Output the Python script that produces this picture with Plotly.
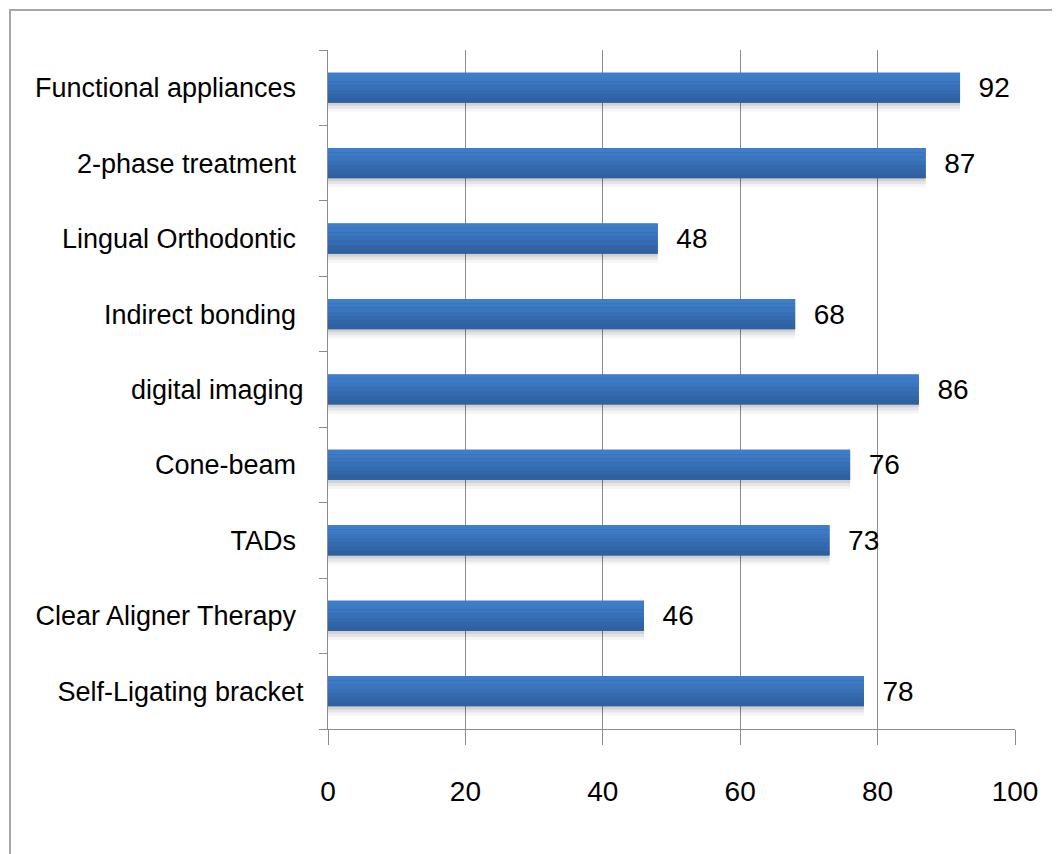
import plotly.graph_objects as go

categories = [
    "Self-Ligating bracket",
    "Clear Aligner Therapy ",
    "TADs ",
    "Cone-beam ",
    "digital imaging",
    "Indirect bonding ",
    "Lingual Orthodontic ",
    "2-phase treatment ",
    "Functional appliances ",
]
values = [78, 46, 73, 76, 86, 68, 48, 87, 92]
x_ticks = [0, 20, 40, 60, 80, 100]

FONT = "Liberation Sans Narrow, Arial Narrow, Liberation Sans, Arial, sans-serif"
BAR_W = 0.4

fig = go.Figure()

# soft shadow under each bar
shadow_bands = [(0.04, "rgba(0,0,0,0.18)"), (0.04, "rgba(0,0,0,0.10)"), (0.04, "rgba(0,0,0,0.04)")]
off = -BAR_W / 2
for w, c in shadow_bands:
    off -= w
    fig.add_trace(go.Bar(
        y=categories, x=values, orientation="h",
        width=w, offset=off, marker=dict(color=c, line=dict(width=0)),
        showlegend=False, hoverinfo="skip",
    ))

# base bar with value labels
fig.add_trace(go.Bar(
    y=categories, x=values, orientation="h",
    width=BAR_W, offset=-BAR_W / 2,
    marker=dict(color="#2E5D9C", line=dict(width=0)),
    text=values, texttemplate="  %{x}", textposition="outside",
    constraintext="none",
    textfont=dict(family=FONT, size=28, color="#000000"),
    cliponaxis=False, showlegend=False, hoverinfo="skip",
))

# vertical gradient bands (dark bottom -> light top)
band_colors = ["#2F609F", "#3165A7", "#346BAF", "#3770B7", "#3A75BE", "#3D7AC5", "#3F7DCA"]
n = len(band_colors)
bw = BAR_W / n
for i, c in enumerate(band_colors):
    fig.add_trace(go.Bar(
        y=categories, x=values, orientation="h",
        width=bw, offset=-BAR_W / 2 + i * bw,
        marker=dict(color=c, line=dict(width=0)),
        showlegend=False, hoverinfo="skip",
    ))

fig.update_layout(
    width=1060, height=854,
    barmode="overlay",
    plot_bgcolor="white", paper_bgcolor="white",
    margin=dict(l=320, r=53, t=42, b=133, autoexpand=False),
    font=dict(family=FONT, color="#000000"),
    showlegend=False,
    shapes=[dict(
        type="rect", xref="paper", yref="paper",
        x0=-0.4629, x1=1.08, y0=-0.2, y1=1.0589,
        line=dict(color="#A6A6A6", width=2), layer="below",
    )],
)

fig.update_xaxes(
    range=[0, 100], tickvals=x_ticks, automargin=False,
    showgrid=True, gridcolor="#8C8C8C", gridwidth=1,
    showline=True, linecolor="#8C8C8C", linewidth=1,
    ticks="outside", ticklen=15, tickcolor="#8C8C8C",
    tickfont=dict(family=FONT, size=28, color="#000000"),
    ticklabelstandoff=22, zeroline=False,
)
fig.update_yaxes(
    categoryorder="array", categoryarray=categories, automargin=False,
    showline=True, linecolor="#8C8C8C", linewidth=1,
    ticks="outside", ticklen=8, tickcolor="#8C8C8C", tickson="boundaries",
    tickfont=dict(family=FONT, size=27, color="#000000"),
    ticklabelstandoff=18, showgrid=False,
)

fig.write_html("out.html")
